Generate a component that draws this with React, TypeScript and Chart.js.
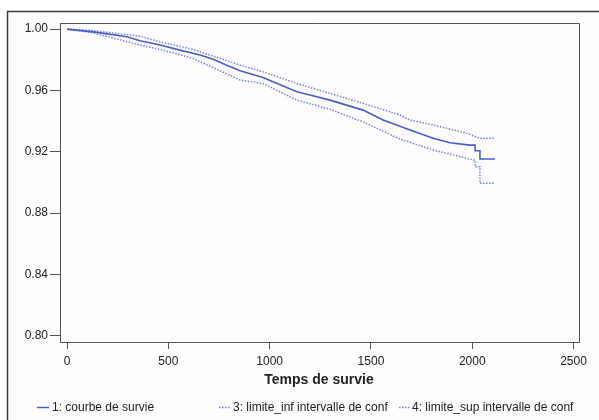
import React, { useEffect, useRef } from "react";
import { Chart, registerables } from "chart.js";

Chart.register(...registerables);

// Survival curve (Kaplan-Meier) and confidence limits
const survieTemps = [0, 130, 295, 360, 459, 557, 656, 721, 788, 854, 967, 1134, 1199, 1298, 1461, 1560, 1693, 1807, 1890, 1989, 2014, 2014, 2038, 2038, 2112];
const survieValeurs = [1.0, 0.9982, 0.995, 0.9924, 0.9896, 0.9863, 0.9831, 0.9803, 0.9765, 0.9728, 0.9685, 0.9592, 0.957, 0.9537, 0.9472, 0.9407, 0.9342, 0.9288, 0.9259, 0.9244, 0.9244, 0.9207, 0.9207, 0.9153, 0.9153];

const infTemps = [0, 130, 360, 459, 622, 854, 967, 1134, 1298, 1461, 1640, 1807, 1973, 2004, 2014, 2014, 2038, 2038, 2112];
const infValeurs = [1.0, 0.9975, 0.9896, 0.9868, 0.9809, 0.9668, 0.9646, 0.9537, 0.9477, 0.9396, 0.9285, 0.9212, 0.9158, 0.9147, 0.9147, 0.9103, 0.9103, 0.8995, 0.8995];

const supTemps = [0, 130, 360, 459, 622, 854, 967, 1134, 1298, 1461, 1644, 1693, 1807, 1973, 2038, 2112];
const supValeurs = [1.0, 0.999, 0.9954, 0.9917, 0.9868, 0.9765, 0.9722, 0.9646, 0.9581, 0.9516, 0.944, 0.9407, 0.9375, 0.9321, 0.9288, 0.9288];

const xTicks = [0, 500, 1000, 1500, 2000, 2500];
const yTicks = [0.8, 0.84, 0.88, 0.92, 0.96, 1.0];
const yTickLabels = ["0.80", "0.84", "0.88", "0.92", "0.96", "1.00"];

const xTitle = "Temps de survie";
const legendLabels = ["1: courbe de survie", "3: limite_inf intervalle de conf", "4: limite_sup intervalle de conf"];

const FONT = "'Liberation Sans', Arial, sans-serif";
const MAIN_COLOR = "#4a5ec6";
const DOT_COLOR = "#7286dc";
const AXIS_COLOR = "#555555";
const TEXT_COLOR = "#222222";

const pairs = (xs: number[], ys: number[]) => xs.map((x, i) => ({ x, y: ys[i] }));

const decorPlugin = {
  id: "decor",
  beforeDraw(chart: any) {
    const ctx = chart.ctx;
    ctx.save();
    ctx.fillStyle = "#ffffff";
    ctx.fillRect(0, 0, chart.width, chart.height);
    ctx.fillStyle = "#fefcfc";
    ctx.fillRect(8, 12, chart.width - 8, chart.height - 12);
    ctx.restore();
  },
  afterDraw(chart: any) {
    const ctx = chart.ctx;
    const a = chart.chartArea;
    ctx.save();
    // outer frame
    ctx.strokeStyle = "#3a3a3a";
    ctx.lineWidth = 1.5;
    ctx.beginPath();
    ctx.moveTo(7.5, chart.height);
    ctx.lineTo(7.5, 11.5);
    ctx.lineTo(chart.width, 11.5);
    ctx.stroke();
    // plot box top / right
    ctx.strokeStyle = AXIS_COLOR;
    ctx.lineWidth = 1;
    ctx.beginPath();
    ctx.moveTo(a.left, a.top + 0.5);
    ctx.lineTo(a.right + 0.5, a.top + 0.5);
    ctx.lineTo(a.right + 0.5, a.bottom);
    ctx.stroke();
    // axis title
    ctx.fillStyle = TEXT_COLOR;
    ctx.font = `bold 14px ${FONT}`;
    ctx.textAlign = "center";
    ctx.textBaseline = "middle";
    ctx.fillText(xTitle, 319, 380);
    // legend
    ctx.font = `12px ${FONT}`;
    ctx.textAlign = "left";
    const ly = 407.5;
    const items = [
      { x0: 37, x1: 49, tx: 52, dash: [] as number[], color: MAIN_COLOR },
      { x0: 219, x1: 230, tx: 233, dash: [1.5, 1.5], color: DOT_COLOR },
      { x0: 399, x1: 410, tx: 412, dash: [1.5, 1.5], color: DOT_COLOR },
    ];
    items.forEach((it, i) => {
      ctx.strokeStyle = it.color;
      ctx.lineWidth = 1.5;
      ctx.setLineDash(it.dash);
      ctx.beginPath();
      ctx.moveTo(it.x0, ly);
      ctx.lineTo(it.x1, ly);
      ctx.stroke();
      ctx.setLineDash([]);
      ctx.fillStyle = TEXT_COLOR;
      ctx.fillText(legendLabels[i], it.tx, ly);
    });
    ctx.restore();
  },
};

export default function App() {
  const ref = useRef<HTMLCanvasElement | null>(null);

  useEffect(() => {
    document.body.style.margin = "0";
    const canvas = ref.current!;
    const chart = new Chart(canvas, {
      type: "line",
      data: {
        datasets: [
          {
            label: legendLabels[0],
            data: pairs(survieTemps, survieValeurs),
            borderColor: MAIN_COLOR,
            borderWidth: 1.6,
            pointRadius: 0,
            tension: 0,
            fill: false,
          },
          {
            label: legendLabels[1],
            data: pairs(infTemps, infValeurs),
            borderColor: DOT_COLOR,
            borderWidth: 1.5,
            borderDash: [1.5, 1.5],
            pointRadius: 0,
            tension: 0,
            fill: false,
          },
          {
            label: legendLabels[2],
            data: pairs(supTemps, supValeurs),
            borderColor: DOT_COLOR,
            borderWidth: 1.5,
            borderDash: [1.5, 1.5],
            pointRadius: 0,
            tension: 0,
            fill: false,
          },
        ],
      },
      options: {
        animation: false,
        responsive: false,
        devicePixelRatio: 1,
        layout: { padding: { left: 0, right: 20, top: 23, bottom: 0 } },
        plugins: { legend: { display: false }, tooltip: { enabled: false } },
        scales: {
          x: {
            type: "linear",
            min: -35,
            max: 2527,
            afterFit: (s: any) => {
              s.height = 78;
            },
            afterBuildTicks: (s: any) => {
              s.ticks = xTicks.map((v) => ({ value: v }));
            },
            ticks: {
              color: TEXT_COLOR,
              font: { family: FONT, size: 12 },
              padding: 5,
              maxRotation: 0,
              callback: (v: any) => String(v),
            },
            grid: { display: true, drawOnChartArea: false, drawTicks: true, tickLength: 7, color: AXIS_COLOR },
            border: { display: true, color: AXIS_COLOR, width: 1 },
          },
          y: {
            type: "linear",
            min: 0.796,
            max: 1.004,
            afterFit: (s: any) => {
              s.width = 60;
            },
            afterBuildTicks: (s: any) => {
              s.ticks = yTicks.map((v) => ({ value: v }));
            },
            ticks: {
              color: TEXT_COLOR,
              font: { family: FONT, size: 12 },
              padding: 2,
              callback: (v: any) => {
                const i = yTicks.findIndex((t) => Math.abs(t - v) < 1e-9);
                return i >= 0 ? yTickLabels[i] : "";
              },
            },
            grid: { display: true, drawOnChartArea: false, drawTicks: true, tickLength: 10, color: AXIS_COLOR },
            border: { display: true, color: AXIS_COLOR, width: 1 },
          },
        },
      },
      plugins: [decorPlugin],
    } as any);
    return () => chart.destroy();
  }, []);

  return <canvas ref={ref} width={599} height={420} style={{ display: "block" }} />;
}
